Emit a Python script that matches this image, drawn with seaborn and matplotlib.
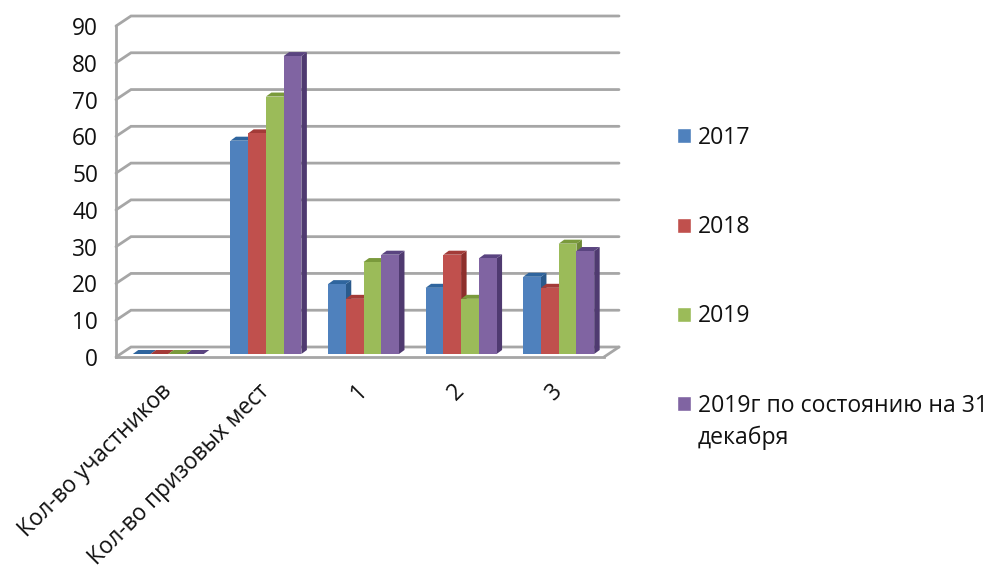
import matplotlib as mpl

mpl.use("Agg")

import matplotlib.pyplot as plt
from matplotlib.transforms import Affine2D
import seaborn as sns
import pandas as pd

categories = ["Кол-во участников", "Кол-во призовых мест", "1", "2", "3"]
series_names = ["2017", "2018", "2019", "2019г по состоянию на 31"]
legend_tail = "декабря"
v2017 = [0, 58, 19, 18, 21]
v2018 = [0, 60, 15, 27, 18]
v2019 = [0, 70, 25, 15, 30]
v2019_dec = [0, 81, 27, 26, 28]
yticks = [0, 10, 20, 30, 40, 50, 60, 70, 80, 90]

front = ["#4F81BD", "#C0504D", "#9BBB59", "#8064A2"]
side = ["#2A5A8C", "#8E2F2C", "#6E8A36", "#4F3A70"]
top = ["#2F659E", "#A33B38", "#7A9A3C", "#5A4480"]
grid_col = "#A6A6A6"
text_col = "#111111"

rows = []
for name, vals in zip(series_names, [v2017, v2018, v2019, v2019_dec]):
    for c, v in zip(categories, vals):
        rows.append({"cat": c, "year": name, "value": v})
df = pd.DataFrame(rows)

sns.set_theme(style="white")
plt.rcParams["font.family"] = ["Open Sans", "DejaVu Sans"]

fig = plt.figure(figsize=(9.89, 5.68), dpi=100)
ax = fig.add_axes([116 / 989, 1 - 357 / 568, 488 / 989, 331 / 568])

sns.barplot(
    data=df, x="cat", y="value", hue="year", order=categories, hue_order=series_names,
    palette=front, saturation=1, width=0.727, gap=0, errorbar=None, ax=ax, zorder=3,
)
ax.set_xlim(-0.5, 4.5)
ax.set_ylim(0, 90)
ax.set_xlabel("")
ax.set_ylabel("")

# fake 3d: depth of the back wall, in data units
wall_x = 15 / 97.6
wall_y = 10 / 3.678
for v in yticks:
    ax.plot([-0.5, -0.5 + wall_x, 4.5 + wall_x], [v, v + wall_y, v + wall_y],
            color=grid_col, lw=2, clip_on=False, zorder=1, solid_joinstyle="miter")
ax.plot([4.5, 4.5 + wall_x], [0, wall_y], color=grid_col, lw=2, clip_on=False, zorder=1)

# bars sit a little inside the floor, depth of a bar
shift = ax.transData + Affine2D().translate(3.5, 3)
bar_x = 5.5 / 97.6
bar_y = 4 / 3.678
for h, cont in enumerate(ax.containers):
    for b in cont:
        x0 = b.get_x()
        x1 = x0 + b.get_width()
        y1 = b.get_height()
        b.set_transform(shift)
        b.set_linewidth(0)
        b.set_zorder(3 + h * 0.1 + 0.02)
        ax.fill([x1, x1 + bar_x, x1 + bar_x, x1], [0, bar_y, y1 + bar_y, y1],
                color=side[h], lw=0, transform=shift, clip_on=False, zorder=3 + h * 0.1)
        ax.fill([x0, x0 + bar_x, x1 + bar_x, x1], [y1, y1 + bar_y, y1 + bar_y, y1],
                color=top[h], lw=0, transform=shift, clip_on=False, zorder=3 + h * 0.1 + 0.01)
        b.set_clip_on(False)

sns.despine(ax=ax, top=True, right=True)
for s in ["left", "bottom"]:
    ax.spines[s].set_color(grid_col)
    ax.spines[s].set_linewidth(2)

ax.set_yticks(yticks)
ax.set_xticks(range(5))
ax.set_xticks([-0.5, 0.5, 1.5, 2.5, 3.5, 4.5], minor=True)
ax.set_xticklabels(categories, rotation=45, ha="right", rotation_mode="anchor")
ax.tick_params(axis="x", which="major", length=0, labelsize=16.3, pad=16, colors=text_col)
ax.tick_params(axis="x", which="minor", length=6, width=2, color=grid_col)
ax.tick_params(axis="y", length=6, width=2, color=grid_col, labelsize=16.3, pad=7, labelcolor=text_col)
for t in ax.get_xticklabels():
    t.set_transform(t.get_transform() + Affine2D().translate(-5, 0))

handles, labels = ax.get_legend_handles_labels()
ax.get_legend().remove()
leg = fig.legend(
    handles, labels, loc="upper left", bbox_to_anchor=(677 / 989, 1 - 126 / 568),
    bbox_transform=fig.transFigure, frameon=False, fontsize=16.6, labelcolor=text_col,
    handlelength=0.62, handleheight=0.62, handletextpad=0.3, labelspacing=2.83,
    borderpad=0, borderaxespad=0,
)
fig.text(698 / 989, 1 - 438 / 568, legend_tail, fontsize=16.6, va="center", ha="left", color=text_col)

fig.savefig("out.png", dpi=100)
